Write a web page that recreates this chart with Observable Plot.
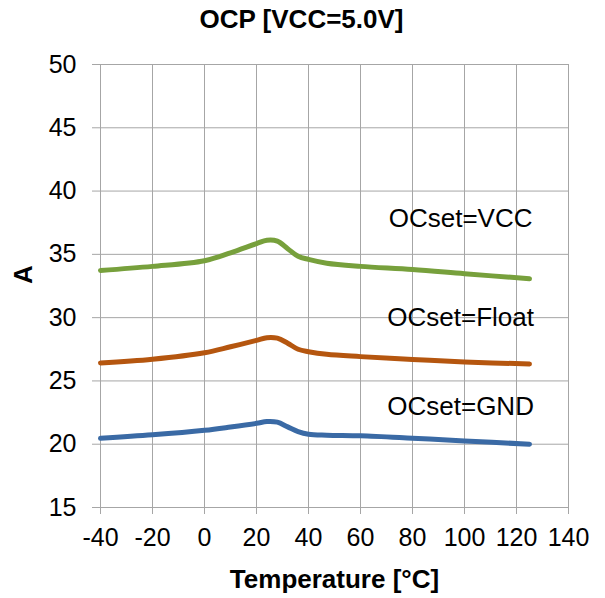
<!DOCTYPE html>
<html>
<head>
<meta charset="utf-8">
<script src="https://cdn.jsdelivr.net/npm/d3@7"></script>
<script src="https://cdn.jsdelivr.net/npm/@observablehq/plot@0.6"></script>
<style>
  html, body { margin: 0; padding: 0; background: #fff; }
  #chart { width: 605px; height: 598px; }
</style>
</head>
<body>
<div id="chart"></div>
<script>
// ---- data ----
const temps = [-40, -20, 0, 10, 20, 24, 28, 32, 36, 40, 47, 60, 80, 100, 125];
const vccValues   = [33.73, 34.05, 34.5, 35.12, 35.85, 36.12, 36.05, 35.45, 34.85, 34.6, 34.3, 34.05, 33.8, 33.47, 33.07];
const floatValues = [26.42, 26.72, 27.23, 27.7, 28.2, 28.42, 28.38, 27.98, 27.5, 27.31, 27.1, 26.92, 26.7, 26.5, 26.34];
const gndValues   = [20.47, 20.74, 21.1, 21.36, 21.65, 21.79, 21.74, 21.37, 21.0, 20.79, 20.71, 20.66, 20.47, 20.26, 20.0];
const seriesNames = ["OCset=VCC", "OCset=Float", "OCset=GND"];
const seriesColors = ["#77a03c", "#b5560f", "#3a6aa5"];
const labelX = [98.5, 98.5, 98.5];
const labelY = [37.8, 30.0, 23.0];
const xTicks = [-40, -20, 0, 20, 40, 60, 80, 100, 120, 140];
const yTicks = [15, 20, 25, 30, 35, 40, 45, 50];
const titleText = "OCP [VCC=5.0V]";
const xLabel = "Temperature [°C]";
const yLabel = "A";

// ---- build table ----
const seriesValues = [vccValues, floatValues, gndValues];
const rows = [];
seriesNames.forEach((name, i) => {
  temps.forEach((t, j) => rows.push({series: name, t, v: seriesValues[i][j]}));
});
const labels = seriesNames.map((name, i) => ({name, x: labelX[i], y: labelY[i]}));

const gridColor = "#a6a6a6";
const font = "'Liberation Sans', Arial, sans-serif";

const chart = Plot.plot({
  width: 605,
  height: 598,
  marginLeft: 100,
  marginRight: 37,
  marginTop: 64,
  marginBottom: 91,
  style: {fontFamily: font, fontSize: "25px", color: "#000", background: "#fff"},
  x: {domain: [-40, 140]},
  y: {domain: [15, 50]},
  color: {domain: seriesNames, range: seriesColors},
  marks: [
    Plot.gridX(xTicks, {stroke: gridColor, strokeOpacity: 1, strokeWidth: 1}),
    Plot.gridY(yTicks, {stroke: gridColor, strokeOpacity: 1, strokeWidth: 1}),
    Plot.ruleX([-40], {stroke: gridColor, strokeWidth: 1}),
    Plot.ruleY([15], {stroke: gridColor, strokeWidth: 1}),
    Plot.axisX({ticks: xTicks, tickSize: 7, tickPadding: 14, stroke: gridColor, fill: "#000", label: null, fontSize: 25, tickFormat: d => String(d)}),
    Plot.axisY({ticks: yTicks, tickSize: 8, tickPadding: 16, stroke: gridColor, fill: "#000", label: null, fontSize: 25, tickFormat: d => String(d)}),
    Plot.line(rows, {x: "t", y: "v", z: "series", stroke: "series", strokeWidth: 5, curve: "catmull-rom", strokeLinecap: "round", strokeLinejoin: "round"}),
    Plot.text(labels, {x: "x", y: "y", text: "name", fontSize: 26, fill: "#000", ariaLabel: "series-label"}),
    Plot.text([titleText], {frameAnchor: "top", dx: -33, dy: -45, lineAnchor: "middle", fontSize: 26, fontWeight: "bold", fill: "#000"}),
    Plot.text([xLabel], {frameAnchor: "bottom", dy: 72, lineAnchor: "middle", fontSize: 26, fontWeight: "bold", fill: "#000"}),
    Plot.text([yLabel], {frameAnchor: "left", dx: -77, dy: -2, rotate: -90, lineAnchor: "middle", fontSize: 26, fontWeight: "bold", fill: "#000"})
  ]
});

document.getElementById("chart").appendChild(chart);

// white boxes behind the series labels (cover the gridlines)
const g = chart.querySelector('g[aria-label="series-label"]');
if (g) {
  g.querySelectorAll("text").forEach(t => {
    const b = t.getBBox();
    const r = document.createElementNS("http://www.w3.org/2000/svg", "rect");
    const cy = b.y + b.height / 2;
    r.setAttribute("x", b.x - 26);
    r.setAttribute("y", cy - 27);
    r.setAttribute("width", b.width + 52);
    r.setAttribute("height", 54);
    r.setAttribute("fill", "#fff");
    r.setAttribute("stroke", "none");
    const tr = t.getAttribute("transform");
    if (tr) r.setAttribute("transform", tr);
    g.insertBefore(r, t);
  });
}
</script>
</body>
</html>
